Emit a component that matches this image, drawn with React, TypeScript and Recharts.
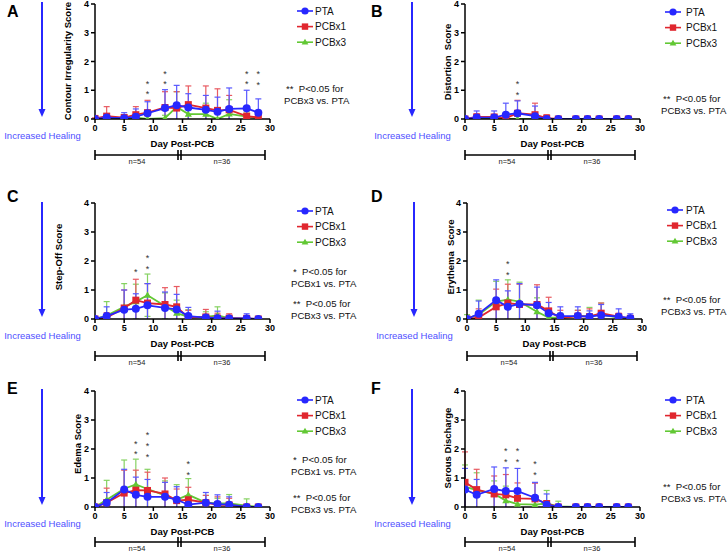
import React from 'react';
import { LineChart, Line, XAxis, YAxis, ErrorBar, ReferenceDot, Legend } from 'recharts';

const FONT = "'Liberation Sans', Arial, Helvetica, sans-serif";
const BLUE = '#2727ff';
const RED = '#e0262e';
const GREEN = '#62c834';
const BLUE_ERR = '#5858ff';
const RED_ERR = '#e85a61';
const GREEN_ERR = '#86d262';

const days = [0, 2, 5, 7, 9, 12, 14, 16, 19, 21, 23, 26, 28];
const xTicks = [0, 5, 10, 15, 20, 25, 30];
const yTicks = [0, 1, 2, 3, 4];
const seriesNames = ['PTA', 'PCBx1', 'PCBx3'];
const groupLabels = ['n=54', 'n=36'];

// A: Contour Irregularity
const contourPTA = [0, 0.05, 0.03, 0.08, 0.2, 0.38, 0.48, 0.4, 0.32, 0.25, 0.35, 0.37, 0.22];
const contourPTAsd = [0, 0.08, 0.19, 0.27, 0.4, 0.64, 0.69, 0.48, 0.5, 0.51, 0.73, 0.63, 0.48];
const contourX1 = [0.02, 0.1, 0.05, 0.15, 0.22, 0.4, 0.38, 0.5, 0.38, 0.3, 0.32, 0.1, 0.05];
const contourX1sd = [0.02, 0.33, 0.1, 0.28, 0.43, 0.55, 0.57, 0.65, 0.77, 0.75, 0.5, 0.2, 0.1];
const contourX3 = [0, 0, 0, 0.05, 0, 0.03, 0.42, 0.17, 0.17, 0, 0.18, 0.08, 0.03];
const contourX3sd = [0, 0, 0, 0.1, 0, 0.1, 0.53, 0.33, 0.38, 0, 0.49, 0.17, 0.07];
const contourStars = [
  { day: 9, y: 1.3, n: 2 },
  { day: 12, y: 1.65, n: 2 },
  { day: 26, y: 1.65, n: 2 },
  { day: 28, y: 1.63, n: 2 },
];

// B: Distortion
const distPTA = [0, 0.05, 0.05, 0.15, 0.2, 0.1, 0, 0, 0, 0, 0, 0, 0];
const distPTAsd = [0, 0.23, 0.23, 0.4, 0.43, 0.35, 0.03, 0, 0, 0, 0, 0, 0];
const distX1 = [0, 0.07, 0.07, 0.03, 0.2, 0.15, 0.03, 0, 0, 0, 0, 0, 0];
const distX1sd = [0, 0.11, 0.08, 0.14, 0.45, 0.4, 0.12, 0, 0, 0, 0, 0, 0];
const distX3 = [0, 0, 0, 0, 0, 0, 0, 0, 0, 0, 0, 0, 0];
const distX3sd = [0, 0, 0, 0, 0, 0, 0, 0, 0, 0, 0, 0, 0];
const distStars = [{ day: 9, y: 1.29, n: 2 }];

// C: Step-Off
const stepPTA = [0, 0.1, 0.32, 0.35, 0.47, 0.38, 0.33, 0.1, 0.05, 0.03, 0.02, 0.02, 0];
const stepPTAsd = [0, 0.32, 0.68, 0.52, 0.75, 0.55, 0.52, 0.3, 0.1, 0.24, 0.08, 0.16, 0];
const stepX1 = [0, 0.05, 0.38, 0.65, 0.55, 0.5, 0.42, 0.05, 0.07, 0.03, 0.03, 0.02, 0];
const stepX1sd = [0, 0.17, 0.62, 0.72, 0.67, 0.58, 0.7, 0.25, 0.26, 0.17, 0.15, 0.03, 0];
const stepX3 = [0, 0.12, 0.42, 0.6, 0.82, 0.45, 0.2, 0.07, 0.07, 0.12, 0.03, 0, 0];
const stepX3sd = [0, 0.48, 0.8, 0.6, 0.73, 0.45, 0.45, 0.25, 0.18, 0.3, 0.07, 0, 0];
const stepStars = [
  { day: 7, y: 1.68, n: 1 },
  { day: 9, y: 2.16, n: 2 },
];

// D: Erythema
const eryPTA = [0, 0.18, 0.65, 0.42, 0.52, 0.47, 0.2, 0.1, 0.1, 0.08, 0.13, 0.08, 0.03];
const eryPTAsd = [0, 0.44, 0.7, 0.55, 0.7, 0.63, 0.37, 0.32, 0.32, 0.2, 0.37, 0.27, 0.15];
const eryX1 = [0, 0.05, 0.42, 0.55, 0.5, 0.5, 0.28, 0.03, 0.1, 0.08, 0.2, 0.08, 0.02];
const eryX1sd = [0, 0.3, 0.61, 0.65, 0.7, 0.68, 0.47, 0.27, 0.2, 0.27, 0.35, 0.12, 0.03];
const eryX3 = [0.02, 0.15, 0.6, 0.67, 0.6, 0.25, 0.05, 0.05, 0.1, 0.1, 0.15, 0.05, 0.03];
const eryX3sd = [0.13, 0.5, 0.7, 0.68, 0.67, 0.48, 0.25, 0.15, 0.2, 0.3, 0.4, 0.1, 0.07];
const eryStars = [{ day: 7, y: 1.95, n: 2 }];

// E: Edema
const edemaPTA = [0, 0.15, 0.6, 0.42, 0.35, 0.35, 0.25, 0.08, 0.15, 0.1, 0.08, 0, 0];
const edemaPTAsd = [0, 0.35, 0.7, 0.61, 0.6, 0.5, 0.45, 0.27, 0.35, 0.32, 0.27, 0, 0];
const edemaX1 = [0, 0.15, 0.48, 0.58, 0.57, 0.45, 0.22, 0.25, 0.15, 0.07, 0.07, 0, 0];
const edemaX1sd = [0, 0.5, 0.79, 0.69, 0.63, 0.55, 0.4, 0.43, 0.25, 0.28, 0.23, 0, 0.03];
const edemaX3 = [0, 0.25, 0.63, 0.78, 0.62, 0.4, 0.25, 0.42, 0.15, 0.12, 0.12, 0.05, 0];
const edemaX3sd = [0, 0.67, 0.99, 0.87, 0.68, 0.5, 0.52, 0.56, 0.25, 0.18, 0.31, 0.23, 0];
const edemaStars = [
  { day: 7, y: 2.25, n: 2 },
  { day: 9, y: 2.54, n: 3 },
  { day: 16, y: 1.55, n: 2 },
];

// F: Serous Discharge
const serousPTA = [0.6, 0.42, 0.62, 0.55, 0.55, 0.32, 0.08, 0, 0, 0, 0, 0, 0];
const serousPTAsd = [0.73, 0.53, 0.76, 0.8, 0.78, 0.53, 0.37, 0, 0, 0, 0, 0, 0];
const serousX1 = [0.85, 0.6, 0.45, 0.42, 0.3, 0.28, 0.12, 0, 0, 0, 0, 0, 0];
const serousX1sd = [1.05, 0.7, 0.62, 0.7, 0.53, 0.54, 0.1, 0, 0, 0, 0, 0, 0];
const serousX3 = [0.7, 0.58, 0.45, 0.22, 0.1, 0.08, 0.12, 0.02, 0, 0, 0, 0, 0];
const serousX3sd = [0.75, 0.6, 0.45, 0.5, 0.3, 0.27, 0.45, 0.18, 0, 0, 0, 0, 0];
const serousStars = [
  { day: 7, y: 1.99, n: 2 },
  { day: 9, y: 1.99, n: 2 },
  { day: 12, y: 1.54, n: 2 },
];

const NOTE_X1 = ['*  P<0.05 for', 'PCBx1 vs. PTA'];
const NOTE_X3 = ['**  P<0.05 for', 'PCBx3 vs. PTA'];

type Star = { day: number; y: number; n: number };

const buildRows = (
  pta: number[], ptaSd: number[], x1: number[], x1Sd: number[], x3: number[], x3Sd: number[]
) =>
  days.map((d, i) => ({
    day: d,
    pta: pta[i], ptaSd: ptaSd[i],
    x1: x1[i], x1Sd: x1Sd[i],
    x3: x3[i], x3Sd: x3Sd[i],
  }));

const circleDot = (p: any) =>
  p.cx == null ? <g key={p.key} /> : <circle key={p.key} cx={p.cx} cy={p.cy} r={4} fill={BLUE} stroke="none" />;
const squareDot = (p: any) =>
  p.cx == null ? <g key={p.key} /> : <rect key={p.key} x={p.cx - 3.5} y={p.cy - 3.5} width={7} height={7} fill={RED} />;
const triDot = (p: any) =>
  p.cx == null ? (
    <g key={p.key} />
  ) : (
    <path key={p.key} d={`M${p.cx},${p.cy - 3.6}L${p.cx + 3.6},${p.cy + 2.6}L${p.cx - 3.6},${p.cy + 2.6}Z`} fill={GREEN} />
  );

const starShape = (n: number) => (p: any) => (
  <g>
    {Array.from({ length: n }).map((_, i) => (
      <text key={i} x={p.cx} y={p.cy + 5 + i * 10.7} textAnchor="middle" fontSize={9} fontFamily={FONT} fill="#333">
        *
      </text>
    ))}
  </g>
);

const legendItems = [
  { name: seriesNames[0], color: BLUE, mk: 'c' },
  { name: seriesNames[1], color: RED, mk: 's' },
  { name: seriesNames[2], color: GREEN, mk: 't' },
];

const LegendBox = ({ textDx }: { textDx: number }) => (
  <svg width={80} height={48} style={{ display: 'block', overflow: 'visible' }}>
    {legendItems.map((it, i) => {
      const y = 8 + i * 15.6;
      return (
        <g key={it.name}>
          <line x1={0} x2={16} y1={y} y2={y} stroke={it.color} strokeWidth={1.6} />
          {it.mk === 'c' && <circle cx={8} cy={y} r={3.6} fill={it.color} />}
          {it.mk === 's' && <rect x={4.8} y={y - 3.2} width={6.4} height={6.4} fill={it.color} />}
          {it.mk === 't' && <path d={`M8,${y - 3.4}L11.4,${y + 2.4}L4.6,${y + 2.4}Z`} fill={it.color} />}
          <text x={textDx} y={y} dominantBaseline="central" fontSize={10} fontFamily={FONT} fill="#111">
            {it.name}
          </text>
        </g>
      );
    })}
  </svg>
);

type PanelCfg = {
  letter: string;
  ox: number; oy: number;
  plotLeft: number; plotTop: number; plotH: number;
  yLabel: string; ylx: number; yly: number;
  letterY: number;
  arrowX: number; arrowY1: number; arrowY2: number; healY: number;
  legX: number; legY: number; legDx: number;
  notes: { lines: string[]; x: number; y: number }[];
  bracketDy: number;
  rows: any[];
  stars: Star[];
};

const panels: PanelCfg[] = [
  {
    letter: 'A', ox: 0, oy: 0, plotLeft: 95, plotTop: 4, plotH: 115,
    yLabel: 'Contour Irregularity Score', ylx: 67, yly: 61, letterY: 17,
    arrowX: 42, arrowY1: 2, arrowY2: 117, healY: 135,
    legX: 297, legY: 11, legDx: 18,
    notes: [{ lines: NOTE_X3, x: 284, y: 88 }],
    bracketDy: 36,
    rows: buildRows(contourPTA, contourPTAsd, contourX1, contourX1sd, contourX3, contourX3sd),
    stars: contourStars,
  },
  {
    letter: 'B', ox: 364, oy: 0, plotLeft: 101, plotTop: 4, plotH: 115,
    yLabel: 'Distortion  Score', ylx: 83, yly: 62, letterY: 17,
    arrowX: 48, arrowY1: 2, arrowY2: 117, healY: 135,
    legX: 301, legY: 12, legDx: 21,
    notes: [{ lines: NOTE_X3, x: 297, y: 98 }],
    bracketDy: 36,
    rows: buildRows(distPTA, distPTAsd, distX1, distX1sd, distX3, distX3sd),
    stars: distStars,
  },
  {
    letter: 'C', ox: 0, oy: 184, plotLeft: 95, plotTop: 19, plotH: 116,
    yLabel: 'Step-Off Score', ylx: 58, yly: 73, letterY: 18,
    arrowX: 42, arrowY1: 18, arrowY2: 133, healY: 151,
    legX: 297, legY: 27, legDx: 18,
    notes: [
      { lines: NOTE_X1, x: 291, y: 87 },
      { lines: NOTE_X3, x: 291, y: 119 },
    ],
    bracketDy: 37,
    rows: buildRows(stepPTA, stepPTAsd, stepX1, stepX1sd, stepX3, stepX3sd),
    stars: stepStars,
  },
  {
    letter: 'D', ox: 364, oy: 184, plotLeft: 103, plotTop: 19, plotH: 116,
    yLabel: 'Erythema  Score', ylx: 86, yly: 73, letterY: 18,
    arrowX: 50, arrowY1: 18, arrowY2: 133, healY: 151,
    legX: 303, legY: 26, legDx: 19,
    notes: [{ lines: NOTE_X3, x: 297, y: 115 }],
    bracketDy: 37,
    rows: buildRows(eryPTA, eryPTAsd, eryX1, eryX1sd, eryX3, eryX3sd),
    stars: eryStars,
  },
  {
    letter: 'E', ox: 0, oy: 368, plotLeft: 95, plotTop: 23, plotH: 116,
    yLabel: 'Edema Score', ylx: 77, yly: 76, letterY: 26,
    arrowX: 42, arrowY1: 21, arrowY2: 137, healY: 155,
    legX: 297, legY: 32, legDx: 18,
    notes: [
      { lines: NOTE_X1, x: 291, y: 91 },
      { lines: NOTE_X3, x: 291, y: 129 },
    ],
    bracketDy: 35,
    rows: buildRows(edemaPTA, edemaPTAsd, edemaX1, edemaX1sd, edemaX3, edemaX3sd),
    stars: edemaStars,
  },
  {
    letter: 'F', ox: 364, oy: 368, plotLeft: 101, plotTop: 23, plotH: 116,
    yLabel: 'Serous Discharge', ylx: 83, yly: 80, letterY: 26,
    arrowX: 48, arrowY1: 21, arrowY2: 137, healY: 155,
    legX: 301, legY: 32, legDx: 21,
    notes: [{ lines: NOTE_X3, x: 297, y: 118 }],
    bracketDy: 35,
    rows: buildRows(serousPTA, serousPTAsd, serousX1, serousX1sd, serousX3, serousX3sd),
    stars: serousStars,
  },
];

const PLOT_W = 175;
const tickStyle = { fontSize: 9, fontWeight: 700, fill: '#000', fontFamily: FONT };
const axisStroke = { stroke: '#000', strokeWidth: 1.5 };

function Panel({ cfg }: { cfg: PanelCfg }) {
  const axisY = cfg.plotTop + cfg.plotH;
  const bL = cfg.plotLeft;
  const bY = axisY + cfg.bracketDy;
  const clipId = `errclip-${cfg.letter}`;
  const clip = `url(#${clipId})`;
  return (
    <div style={{ position: 'absolute', left: cfg.ox, top: cfg.oy, width: 364, height: 184 }}>
      <svg width={0} height={0} style={{ position: 'absolute' }}>
        <defs>
          <clipPath id={clipId} clipPathUnits="userSpaceOnUse">
            <rect x={cfg.plotLeft - 10} y={0} width={PLOT_W + 20} height={axisY} />
          </clipPath>
        </defs>
      </svg>
      <LineChart
        width={364}
        height={184}
        data={cfg.rows}
        margin={{
          top: cfg.plotTop,
          left: cfg.plotLeft - 30,
          right: 364 - cfg.plotLeft - PLOT_W,
          bottom: 184 - cfg.plotTop - cfg.plotH - 30,
        }}
      >
        <XAxis
          type="number"
          dataKey="day"
          domain={[0, 30]}
          ticks={xTicks}
          interval={0}
          allowDataOverflow
          height={30}
          tickSize={4}
          tickMargin={2}
          tick={tickStyle}
          axisLine={axisStroke}
          tickLine={axisStroke}
          label={(p: any) => {
            const vb = p.viewBox;
            return (
              <text x={vb.x + vb.width / 2} y={vb.y + 27.5} textAnchor="middle" fontSize={9.5} fontWeight={700} fontFamily={FONT} fill="#000">
                Day Post-PCB
              </text>
            );
          }}
        />
        <YAxis
          type="number"
          domain={[0, 4]}
          ticks={yTicks}
          interval={0}
          allowDataOverflow
          width={30}
          tickSize={4}
          tickMargin={2}
          tick={tickStyle}
          axisLine={axisStroke}
          tickLine={axisStroke}
          label={() => (
            <text
              x={cfg.ylx}
              y={cfg.yly}
              transform={`rotate(-90 ${cfg.ylx} ${cfg.yly})`}
              textAnchor="middle"
              dominantBaseline="central"
              fontSize={9.5}
              fontWeight={700}
              fontFamily={FONT}
              fill="#000"
              style={{ whiteSpace: 'pre' }}
            >
              {cfg.yLabel}
            </text>
          )}
        />
        <Line dataKey="x3" name={seriesNames[2]} stroke={GREEN} strokeWidth={1.8} dot={triDot} activeDot={false} isAnimationActive={false}>
          <ErrorBar dataKey="x3Sd" width={3} strokeWidth={1.2} stroke={GREEN_ERR} direction="y" clipPath={clip} />
        </Line>
        <Line dataKey="x1" name={seriesNames[1]} stroke={RED} strokeWidth={1.8} dot={squareDot} activeDot={false} isAnimationActive={false}>
          <ErrorBar dataKey="x1Sd" width={3} strokeWidth={1.2} stroke={RED_ERR} direction="y" clipPath={clip} />
        </Line>
        <Line dataKey="pta" name={seriesNames[0]} stroke={BLUE} strokeWidth={1.8} dot={circleDot} activeDot={false} isAnimationActive={false}>
          <ErrorBar dataKey="ptaSd" width={3} strokeWidth={1.2} stroke={BLUE_ERR} direction="y" clipPath={clip} />
        </Line>
        {cfg.stars.map((s, i) => (
          <ReferenceDot key={i} x={s.day} y={s.y} r={1} ifOverflow="visible" shape={starShape(s.n)} />
        ))}
        <Legend
          layout="vertical"
          align="center"
          verticalAlign="middle"
          wrapperStyle={{ left: cfg.legX, top: cfg.legY - 8, width: 80, height: 48 }}
          content={() => <LegendBox textDx={cfg.legDx} />}
        />
      </LineChart>
      <svg width={364} height={184} style={{ position: 'absolute', left: 0, top: 0, pointerEvents: 'none' }}>
        <text x={7} y={cfg.letterY} fontSize={16} fontWeight={700} fontFamily={FONT} fill="#000">
          {cfg.letter}
        </text>
        <line x1={cfg.arrowX} x2={cfg.arrowX} y1={cfg.arrowY1} y2={cfg.arrowY2 - 6} stroke={BLUE} strokeWidth={2} />
        <path
          d={`M${cfg.arrowX - 3.5},${cfg.arrowY2 - 8}L${cfg.arrowX + 3.5},${cfg.arrowY2 - 8}L${cfg.arrowX},${cfg.arrowY2}Z`}
          fill={BLUE}
        />
        <text x={cfg.arrowX + 0.5} y={cfg.healY} textAnchor="middle" dominantBaseline="central" fontSize={9.5} fontFamily={FONT} fill="#4f4fff">
          Increased Healing
        </text>
        {cfg.notes.map((n, i) => (
          <g key={i}>
            <text x={n.x + 2} y={n.y} dominantBaseline="central" fontSize={9.6} fontFamily={FONT} fill="#111" style={{ whiteSpace: 'pre' }}>
              {n.lines[0]}
            </text>
            <text x={n.x} y={n.y + 12} dominantBaseline="central" fontSize={9.6} fontFamily={FONT} fill="#111">
              {n.lines[1]}
            </text>
          </g>
        ))}
        <g stroke="#000" strokeWidth={1.6}>
          <line x1={bL} x2={bL + 170} y1={bY} y2={bY} />
          <line x1={bL} x2={bL} y1={bY - 5} y2={bY + 5} />
          <line x1={bL + 170} x2={bL + 170} y1={bY - 5} y2={bY + 5} />
          <line x1={bL + 83} x2={bL + 83} y1={bY - 5} y2={bY + 5} />
          <line x1={bL + 86} x2={bL + 86} y1={bY - 5} y2={bY + 5} />
        </g>
        <text x={bL + 42} y={bY + 6} textAnchor="middle" dominantBaseline="central" fontSize={7.5} fontFamily={FONT} fill="#222">
          {groupLabels[0]}
        </text>
        <text x={bL + 127} y={bY + 6} textAnchor="middle" dominantBaseline="central" fontSize={7.5} fontFamily={FONT} fill="#222">
          {groupLabels[1]}
        </text>
      </svg>
    </div>
  );
}

export default function App() {
  return (
    <div style={{ position: 'absolute', left: 0, top: 0, width: 728, height: 552, background: '#fff', overflow: 'hidden', fontFamily: FONT }}>
      {panels.map((p) => (
        <Panel key={p.letter} cfg={p} />
      ))}
    </div>
  );
}
